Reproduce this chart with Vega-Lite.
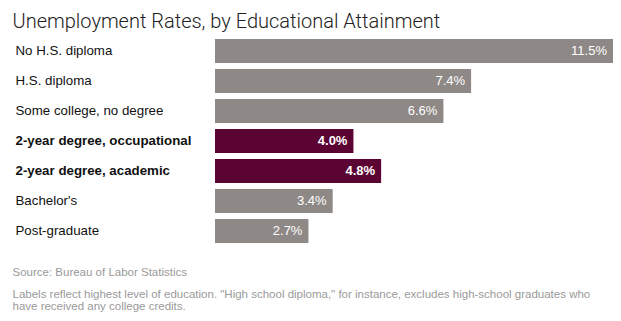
{
  "$schema": "https://vega.github.io/schema/vega-lite/v6.json",
  "width": 398,
  "height": 210,
  "autosize": {"type": "none"},
  "padding": {"left": 215, "top": 36, "right": 8, "bottom": 75},
  "background": "white",
  "config": {"view": {"stroke": null}, "font": "Liberation Sans"},
  "data": {
    "values": [
      {"category": "No H.S. diploma", "rate": 0.115, "group": "other"},
      {"category": "H.S. diploma", "rate": 0.074, "group": "other"},
      {"category": "Some college, no degree", "rate": 0.066, "group": "other"},
      {"category": "2-year degree, occupational", "rate": 0.040, "group": "featured"},
      {"category": "2-year degree, academic", "rate": 0.048, "group": "featured"},
      {"category": "Bachelor's", "rate": 0.034, "group": "other"},
      {"category": "Post-graduate", "rate": 0.027, "group": "other"}
    ]
  },
  "encoding": {
    "y": {
      "field": "category",
      "type": "nominal",
      "sort": null,
      "scale": {"paddingInner": 0.2, "paddingOuter": 0.1},
      "axis": {
        "title": ["Labels reflect highest level of education. \"High school diploma,\" for instance, excludes high-school graduates who", "have received any college credits."],
        "titleAngle": 0,
        "titleX": -203,
        "titleY": 261,
        "titleAlign": "left",
        "titleBaseline": "alphabetic",
        "titleFontSize": 11.5,
        "titleFontWeight": "normal",
        "titleColor": "#9a9a9a",
        "titleLineHeight": 12.5,
        "domain": false,
        "ticks": false,
        "labelPadding": 200,
        "labelAlign": "left",
        "labelFontSize": 13.3,
        "labelColor": "#111111",
        "labelFontWeight": {"condition": {"test": "indexof(datum.value, '2-year') === 0", "value": "bold"}, "value": "normal"}
      }
    }
  },
  "layer": [
    {
      "mark": {"type": "bar"},
      "encoding": {
        "x": {
          "field": "rate",
          "type": "quantitative",
          "scale": {"domain": [0, 0.115], "nice": false},
          "axis": {
            "orient": "top",
            "labels": false,
            "ticks": false,
            "domain": false,
            "grid": false,
            "title": "Unemployment Rates, by Educational Attainment",
            "titleX": -203,
            "titleY": -9,
            "titleAlign": "left",
            "titleBaseline": "alphabetic",
            "titleFont": "Roboto",
            "titleFontSize": 20,
            "titleFontWeight": 300,
            "titleColor": "#222222"
          }
        },
        "color": {
          "field": "group",
          "type": "nominal",
          "scale": {"domain": ["other", "featured"], "range": ["#8e8986", "#5b0332"]},
          "legend": null
        }
      }
    },
    {
      "transform": [{"filter": "datum.group === 'other'"}],
      "mark": {"type": "text", "align": "right", "baseline": "middle", "dx": -6, "color": "white", "fontSize": 13},
      "encoding": {
        "x": {
          "field": "rate",
          "type": "quantitative",
          "axis": {
            "orient": "bottom",
            "labels": false,
            "ticks": false,
            "domain": false,
            "grid": false,
            "title": "Source: Bureau of Labor Statistics",
            "titleX": -203,
            "titleY": 29,
            "titleAlign": "left",
            "titleBaseline": "alphabetic",
            "titleFontSize": 11.5,
            "titleFontWeight": "normal",
            "titleColor": "#9a9a9a"
          }
        },
        "text": {"field": "rate", "type": "quantitative", "format": ".1%"}
      }
    },
    {
      "transform": [{"filter": "datum.group === 'featured'"}],
      "mark": {"type": "text", "align": "right", "baseline": "middle", "dx": -6, "color": "white", "fontSize": 13, "fontWeight": "bold"},
      "encoding": {
        "x": {"field": "rate", "type": "quantitative", "axis": null},
        "text": {"field": "rate", "type": "quantitative", "format": ".1%"}
      }
    }
  ],
  "resolve": {"axis": {"x": "independent"}}
}
